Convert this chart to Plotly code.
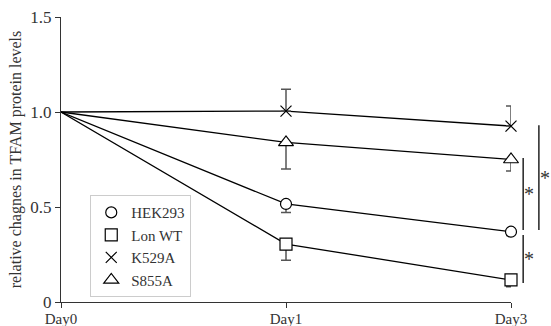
import plotly.graph_objects as go

days = ["Day0", "Day1", "Day3"]
series_names = ["HEK293", "Lon WT", "K529A", "S855A"]
hek293 = [1.0, 0.516, 0.37]
lon_wt = [1.0, 0.305, 0.116]
k529a = [1.0, 1.005, 0.926]
s855a = [1.0, 0.84, 0.75]
# error bars (upper / lower), Day1 and Day3
hek293_err_up = [0, 0]
hek293_err_dn = [0.045, 0.02]
lon_wt_err_up = [0, 0]
lon_wt_err_dn = [0.085, 0.036]
k529a_err_up = [0.115, 0.105]
k529a_err_dn = [0, 0]
s855a_err_up = [0, 0]
s855a_err_dn = [0.14, 0.06]
y_ticks = [0, 0.5, 1.0, 1.5]
y_ticklabels = ["0", "0.5", "1.0", "1.5"]

FONT = "Liberation Serif, Times New Roman, serif"
symbols = ["circle", "square", "x-thin-open", "triangle-up"]
sizes = [11, 12, 11, 13]
ys = [hek293, lon_wt, k529a, s855a]
ups = [hek293_err_up, lon_wt_err_up, k529a_err_up, s855a_err_up]
dns = [hek293_err_dn, lon_wt_err_dn, k529a_err_dn, s855a_err_dn]

fig = go.Figure()
# connecting lines
for name, y in zip(series_names, ys):
    fig.add_trace(go.Scatter(
        x=days, y=y, name=name, mode="lines", showlegend=False,
        line=dict(color="black", width=1.3), cliponaxis=False, hoverinfo="skip",
    ))
# markers with error bars (Day1, Day3)
for name, y, up, dn, sym, sz in zip(series_names, ys, ups, dns, symbols, sizes):
    fig.add_trace(go.Scatter(
        x=days[1:], y=y[1:], name=name, mode="markers",
        marker=dict(symbol=sym, size=sz,
                    color="black" if sym == "x-thin-open" else "white",
                    line=dict(color="black", width=1.2)),
        error_y=dict(type="data", symmetric=False, array=up, arrayminus=dn,
                     color="#555555", thickness=1.5, width=5),
        cliponaxis=False,
    ))

# significance brackets (paper coordinates derived from data values)
ymax = y_ticks[-1]
brackets = [
    # (x paper, y top value, y bottom value, star x paper)
    (1.027, s855a[2] + 0.008, hek293[2] + 0.009, 1.040),
    (1.062, k529a[2] + 0.004, hek293[2] + 0.009, 1.075),
    (1.027, hek293[2] - 0.017, lon_wt[2] - 0.016, 1.040),
]
for xp, yt, yb, xs in brackets:
    fig.add_shape(type="line", xref="paper", yref="paper",
                  x0=xp, x1=xp, y0=yt / ymax, y1=yb / ymax,
                  line=dict(color="black", width=1.3))
    fig.add_annotation(xref="paper", yref="paper", x=xs, y=(yt + yb) / 2 / ymax,
                       text="*", showarrow=False, xanchor="center", yanchor="middle",
                       font=dict(family=FONT, size=20, color="#333333"))

fig.update_layout(
    width=551, height=326,
    margin=dict(l=61, r=40, t=17, b=24, autoexpand=False),
    paper_bgcolor="white", plot_bgcolor="white",
    font=dict(family=FONT, color="#333333"),
    showlegend=True,
    legend=dict(x=0.065, y=0.375, xanchor="left", yanchor="top",
                bgcolor="white", bordercolor="#cccccc", borderwidth=1,
                font=dict(family=FONT, size=15, color="#333333"),
                itemwidth=30, tracegroupgap=0),
)
fig.update_xaxes(
    type="category", range=[0, 2], showgrid=False, zeroline=False,
    showline=True, linecolor="#333333", linewidth=1.3,
    ticks="outside", ticklen=5, tickcolor="#333333", tickwidth=1.3,
    tickfont=dict(family=FONT, size=15, color="#333333"),
    ticklabelstandoff=-2,
)
fig.update_yaxes(
    range=[0, ymax], showgrid=False, zeroline=False,
    showline=True, linecolor="#333333", linewidth=1.3,
    ticks="outside", ticklen=5, tickcolor="#333333", tickwidth=1.3,
    tickvals=y_ticks, ticktext=y_ticklabels,
    tickfont=dict(family=FONT, size=17, color="#333333"),
    title=dict(text="relative chagnes in TFAM protein levels",
               font=dict(family=FONT, size=16, color="#333333"), standoff=4),
)

fig.write_html("out.html", config={"displayModeBar": False},
               post_script="document.body.style.margin='0';")
